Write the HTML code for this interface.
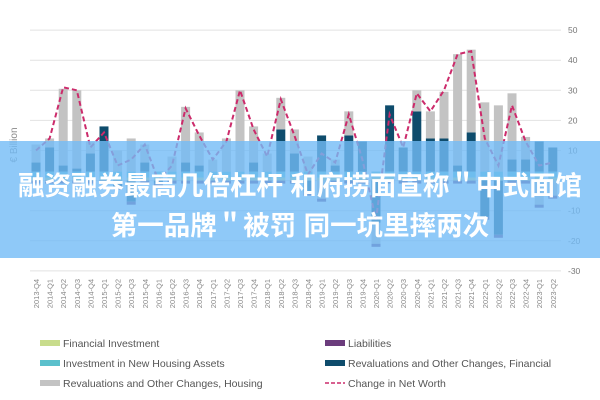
<!DOCTYPE html>
<html><head><meta charset="utf-8"><style>
body{margin:0;width:600px;height:400px;overflow:hidden;background:#fff;font-family:"Liberation Sans","Noto Sans CJK SC",sans-serif}
#banner{position:absolute;left:0;top:141px;width:600px;height:117px;background:rgba(115,188,246,0.8)}
.t{position:absolute;left:0;width:600px;text-align:center;color:#fff;font-weight:bold;font-size:26.5px;white-space:nowrap;font-family:"Liberation Sans","Noto Sans CJK SC",sans-serif}
</style></head><body>
<svg id="chart" width="600" height="400" style="position:absolute;left:0;top:0"></svg>
<div id="banner">
<div class="t" style="top:23px">融资融券最高几倍杠杆 和府捞面宣称＂中式面馆</div>
<div class="t" style="top:63px">第一品牌＂被罚 同一坑里摔两次</div>
</div>
<script>
const categories=["2013-Q4","2014-Q1","2014-Q2","2014-Q3","2014-Q4","2015-Q1","2015-Q2","2015-Q3","2015-Q4","2016-Q1","2016-Q2","2016-Q3","2016-Q4","2017-Q1","2017-Q2","2017-Q3","2017-Q4","2018-Q1","2018-Q2","2018-Q3","2018-Q4","2019-Q1","2019-Q2","2019-Q3","2019-Q4","2020-Q1","2020-Q2","2020-Q3","2020-Q4","2021-Q1","2021-Q2","2021-Q3","2021-Q4","2022-Q1","2022-Q2","2022-Q3","2022-Q4","2023-Q1","2023-Q2"];
const finInv=[1,1,1,1,1,1,1,1,1,1,1,1,1,1,1,1,1,1,1,1,1,1,1,1,1,1,1,1,1,1,1,1,1,1,1,1,1,1,1];
const housingInv=[2,2,2,2,2,2,2,2,2,2,2,2,2,2,2,2,2,2,2,2,2,2,2,2,2,2,2,2,2,2,2,2,2,2,2,2,2,2,2];
const revFin=[3,8,2,1,6,15,-2,-7,3,-1,0,3,2,0,0,0,3,0,14,6,-4,12,2,12,10,-14,22,8,20,11,11,2,13,-12,-18,4,4,10,8];
const revHousing=[6,3,25.5,26,4,0,7,11,6,0,5,18.5,11,4,11,27,12,6,10.5,8,5,-6,2,8,0,-7,0,0,7,9,15.5,37,27.5,23,22,22,7.5,-8,-5];
const liabilities=[-1,-1,-1,-1,-1,-1,-1,-1,-1,-1,-1,-1,-1,-1,-1,-1,-1,-1,-1,-1,-1,-1,-1,-1,-1,-1,-1,-1,-1,-1,-1,-1,-1,-1,-1,-1,-1,-1,-1];
const netWorth=[10,14,31,30,11,16,5,7,12,0,5,24,15,7,13,30,17,8,27,15,2,9,6,22,7,-13,22,11,29,23,30,42,43,14,5,25,13,5,6];
const yTicks=[50,40,30,20,10,0,-10,-20,-30];
const NS="http://www.w3.org/2000/svg";
const svg=document.getElementById('chart');
const y=v=>180.6-v*3.01;
const x=i=>36+i*13.6;
function mk(t,a){const e=document.createElementNS(NS,t);for(const k in a)e.setAttribute(k,a[k]);svg.appendChild(e);return e;}
yTicks.forEach(v=>{
 const g=mk('line',{x1:30,x2:561,y1:y(v),y2:y(v),stroke:'#e2e2e2','stroke-width':1});
 
 
 const t=mk('text',{x:568,y:y(v)+3,'font-size':8.5,fill:'#777'});t.textContent=v;
 
 
});
const yt=mk('text',{x:17,y:145,'font-size':10,fill:'#888',transform:'rotate(-90 17 145)','text-anchor':'middle'});yt.textContent='€ Billion';


const series=[[finInv,'#c8dc8c','financial-investment'],[housingInv,'#5bc0cc','housing-investment'],[revFin,'#0e4c6c','revaluation-financial'],[revHousing,'#c3c3c3','revaluation-housing'],[liabilities,'#6b3c7c','liabilities']];
categories.forEach((c,i)=>{
 let pos=0,neg=0;
 series.forEach(([arr,col,nm])=>{
  const v=arr[i];if(!v)return;
  let y0,y1;
  if(v>0){y0=pos;pos+=v;y1=pos;}else{y0=neg;neg+=v;y1=neg;}
  const r=mk('rect',{x:x(i)-4.5,width:9,y:Math.min(y(y0),y(y1)),height:Math.abs(y(y0)-y(y1)),fill:col});
  
  
 });
 const t=mk('text',{x:x(i)+3,y:279,'font-size':7.5,fill:'#888','text-anchor':'end',transform:`rotate(-90 ${x(i)+3} 279)`});t.textContent=c;
 
 
});
const p=mk('polyline',{points:netWorth.map((v,i)=>x(i)+','+y(v)).join(' '),fill:'none',stroke:'#cc2b6b','stroke-width':2,'stroke-dasharray':'5,3'});


const legend=[['Financial Investment','#c8dc8c',40,343,0],['Investment in New Housing Assets','#5bc0cc',40,363,0],['Revaluations and Other Changes, Housing','#c3c3c3',40,383,0],['Liabilities','#6b3c7c',325,343,0],['Revaluations and Other Changes, Financial','#0e4c6c',325,363,0],['Change in Net Worth','#cc2b6b',325,383,1]];
legend.forEach(([lab,col,lx,ly,dash])=>{
 let s;
 if(dash){s=mk('line',{x1:lx,x2:lx+20,y1:ly,y2:ly,stroke:col,'stroke-width':1.5,'stroke-dasharray':'4,2'});}
 else{s=mk('rect',{x:lx,y:ly-3,width:20,height:6,fill:col});}
 
 
 const t=mk('text',{x:lx+23,y:ly+4,'font-size':10.5,fill:'#555'});t.textContent=lab;
 
 
});
</script>
</body></html>
